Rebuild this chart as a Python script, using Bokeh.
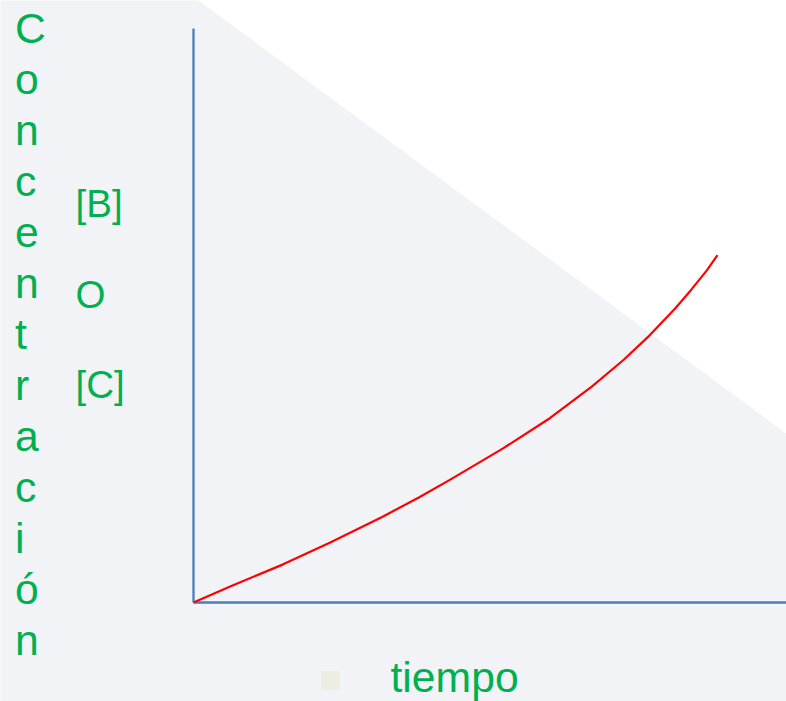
from bokeh.plotting import figure
from bokeh.models import Range1d, ColumnDataSource
from bokeh.core.properties import value
from bokeh.embed import file_html
from bokeh.resources import INLINE

# ---- data ----
tiempo = [0, 0.7, 1.7, 2.6, 3.6, 4.3, 4.9, 5.9, 6.8, 7.6, 8.2, 8.7, 9.2, 9.5, 9.8, 10.0]
concentracion = [0, 0.28, 0.66, 1.04, 1.49, 1.83, 2.14, 2.68, 3.21, 3.76, 4.22, 4.65, 5.13, 5.45, 5.79, 6.05]
eje_t_max = 11.4
eje_c_max = 10.0
ylabel_letters = list("Concentración")
especies = ["[B]", "O", "[C]"]
xlabel = "tiempo"

# ---- layout helpers (page pixels -> data units) ----
W, H = 786, 701
X0, Y0 = 193.0, 602.0
SX, SY = 52.4, 57.4


def dx(px):
    return (px - X0) / SX


def dy(py):
    return (Y0 - py) / SY


FONT = value("Liberation Sans")
GREEN = "#00B050"
BLUE = "#4A7EBB"
BIG_SHIFT = 15    # renderer places text baseline lower than requested
SMALL_SHIFT = 14

p = figure(width=W, height=H, output_backend="svg", toolbar_location=None,
           x_range=Range1d(dx(0), dx(W)),
           y_range=Range1d(dy(H), dy(0)),
           x_axis_type=None, y_axis_type=None, min_border=0)
p.outline_line_color = None
p.background_fill_color = "white"
p.border_fill_color = "white"
p.grid.visible = False

# slide background shape
p.patch(x=[dx(-10), dx(184.4), dx(786), dx(800), dx(800), dx(-10)],
        y=[dy(-10), dy(-10), dy(433), dy(433), dy(710), dy(710)],
        fill_color="#F2F3F7", line_color=None)

# axes lines
p.line([0, 0], [0, eje_c_max], line_color=BLUE, line_width=2.3)
p.line([0, eje_t_max], [0, 0], line_color=BLUE, line_width=2.3)

# curve
p.line(tiempo, concentracion, line_color="#FF0000", line_width=2.2)

# vertical label letters
src_letters = ColumnDataSource(dict(
    x=[dx(14.5)] * len(ylabel_letters),
    y=[dy(42.7 + 51.0 * k - BIG_SHIFT) for k in range(len(ylabel_letters))],
    text=ylabel_letters))
p.text(x="x", y="y", text="text", source=src_letters, text_font=FONT,
       text_font_size="42.7px", text_color=GREEN,
       text_align="left", text_baseline="alphabetic")

# species labels
src_sp = ColumnDataSource(dict(
    x=[dx(75)] * len(especies),
    y=[dy(b - SMALL_SHIFT) for b in (217, 308, 398)],
    text=especies))
p.text(x="x", y="y", text="text", source=src_sp, text_font=FONT,
       text_font_size="38.5px", text_color=GREEN,
       text_align="left", text_baseline="alphabetic")

# bullet + x label
p.scatter(x=[dx(330)], y=[dy(680)], marker="square", size=18.7,
          fill_color="#EEEDE3", line_color=None)
p.text(x=[dx(390)], y=[dy(691 - BIG_SHIFT)], text=[xlabel], text_font=FONT,
       text_font_size="42.7px", text_color=GREEN,
       text_align="left", text_baseline="alphabetic")

open("out.html", "w").write(file_html(p, INLINE))
